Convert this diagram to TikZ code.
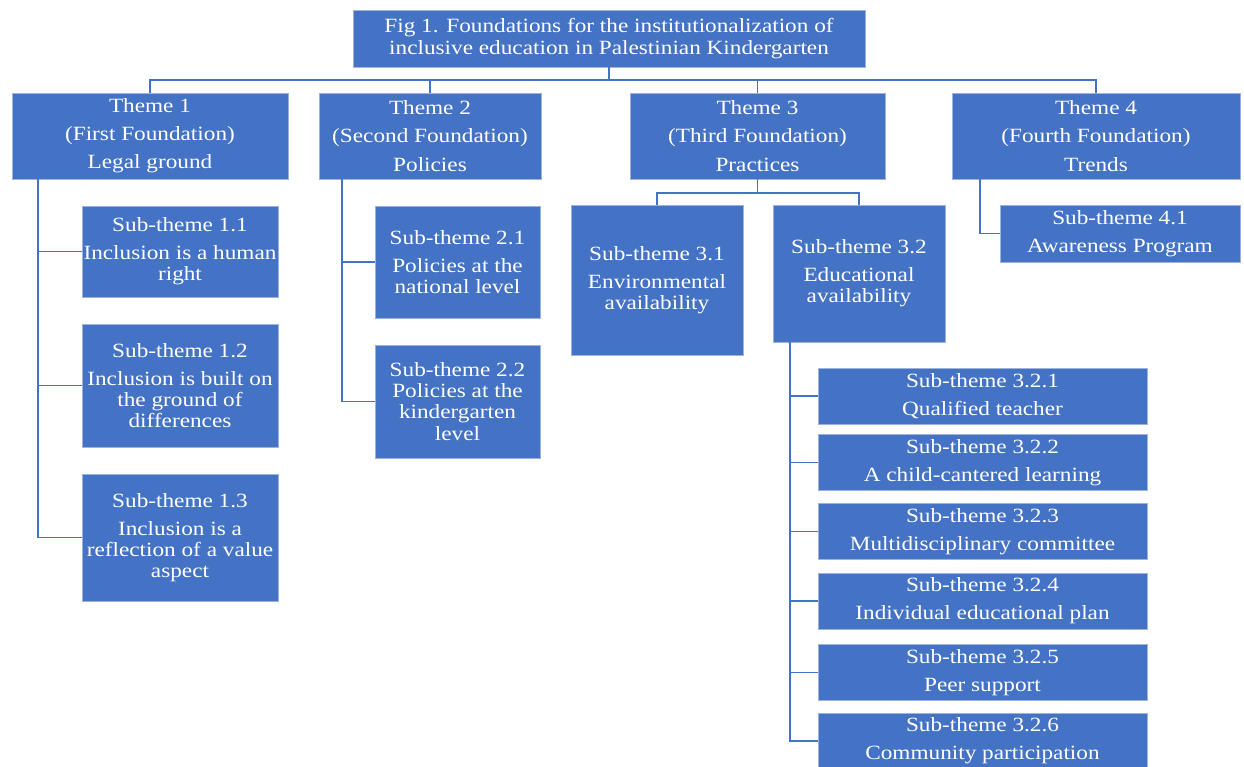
\documentclass[tikz,border=0pt]{standalone}
\usepackage{fontspec}
\setmainfont{Liberation Serif}[FakeStretch=1.15]
\definecolor{boxblue}{HTML}{4472C4}
\definecolor{boxedge}{HTML}{9DB3DE}
\begin{document}
\begin{tikzpicture}[x=0.02cm, y=-0.02cm,
	box/.style={draw=boxedge, line width=0.5pt, fill=boxblue, text=white, align=center, inner sep=0pt, font=\fontsize{11.5}{12}\selectfont},
	theme/.style={box, minimum height=1.72cm, font=\fontsize{11.5}{16}\selectfont},
	link/.style={draw=boxblue, line width=1.1pt}]
\useasboundingbox[fill=white] (0,0) rectangle (1244,767);
% title and themes
\node[box, minimum width=10.24cm, minimum height=1.14cm, font=\fontsize{11.5}{12.5}\selectfont] (top) at (609,38.5) {Fig 1. Foundations for the institutionalization of\\inclusive education in Palestinian Kindergarten};
\node[theme, minimum width=5.52cm] (t1) at (150,136) {Theme 1\\(First Foundation)\\Legal ground};
\node[theme, minimum width=4.44cm] (t2) at (430,136) {Theme 2\\(Second Foundation)\\Policies};
\node[theme, minimum width=5.10cm] (t3) at (757.5,136) {Theme 3\\(Third Foundation)\\Practices};
\node[theme, minimum width=5.76cm] (t4) at (1096,136) {Theme 4\\(Fourth Foundation)\\Trends};
% sub-themes
\node[box, minimum width=3.92cm, minimum height=1.82cm] (s11) at (180,251.5) {Sub-theme 1.1\\[4pt]Inclusion is a human\\right};
\node[box, minimum width=3.92cm, minimum height=2.46cm] (s12) at (180,385.5) {Sub-theme 1.2\\[4pt]Inclusion is built on\\the ground of\\differences};
\node[box, minimum width=3.92cm, minimum height=2.54cm] (s13) at (180,537.5) {Sub-theme 1.3\\[4pt]Inclusion is a\\reflection of a value\\aspect};
\node[box, minimum width=3.30cm, minimum height=2.24cm] (s21) at (457.5,262) {Sub-theme 2.1\\[4pt]Policies at the\\national level};
\node[box, minimum width=3.30cm, minimum height=2.26cm] (s22) at (457.5,401.5) {Sub-theme 2.2\\Policies at the\\kindergarten\\level};
\node[box, minimum width=3.44cm, minimum height=3.00cm] (s31) at (657,280) {Sub-theme 3.1\\[4pt]Environmental\\availability};
\node[box, minimum width=3.44cm, minimum height=2.74cm] (s32) at (859,273.5) {Sub-theme 3.2\\[4pt]Educational\\availability};
\node[box, minimum width=4.80cm, minimum height=1.14cm] (s41) at (1120,233.5) {Sub-theme 4.1\\[4pt]Awareness Program};
\node[box, minimum width=6.58cm, minimum height=1.12cm] (s321) at (982.5,396) {Sub-theme 3.2.1\\[4pt]Qualified teacher};
\node[box, minimum width=6.58cm, minimum height=1.12cm] (s322) at (982.5,462.5) {Sub-theme 3.2.2\\[4pt]A child-cantered learning};
\node[box, minimum width=6.58cm, minimum height=1.12cm] (s323) at (982.5,531.5) {Sub-theme 3.2.3\\[4pt]Multidisciplinary committee};
\node[box, minimum width=6.58cm, minimum height=1.12cm] (s324) at (982.5,601) {Sub-theme 3.2.4\\[4pt]Individual educational plan};
\node[box, minimum width=6.58cm, minimum height=1.12cm] (s325) at (982.5,672.5) {Sub-theme 3.2.5\\[4pt]Peer support};
\node[box, minimum width=6.58cm, minimum height=1.12cm] (s326) at (982.5,741) {Sub-theme 3.2.6\\[4pt]Community participation};
% connectors
\foreach \t in {t1,t2,t3,t4}
{
	\draw[link] (top.south) -- ++(0,13) -| (\t.north);
}
\foreach \s in {s11,s12,s13}
{
	\draw[link] (t1.south west) ++(26,0) |- (\s.west);
}
\foreach \s in {s21,s22}
{
	\draw[link] (t2.south west) ++(23,0) |- (\s.west);
}
\foreach \s in {s31,s32}
{
	\draw[link] (t3.south) -- ++(0,14) -| (\s.north);
}
\draw[link] (t4.south west) ++(28,0) |- (s41.west);
\foreach \s in {s321,s322,s323,s324,s325,s326}
{
	\draw[link] (s32.south west) ++(17,0) |- (\s.west);
}
\end{tikzpicture}
\end{document}
